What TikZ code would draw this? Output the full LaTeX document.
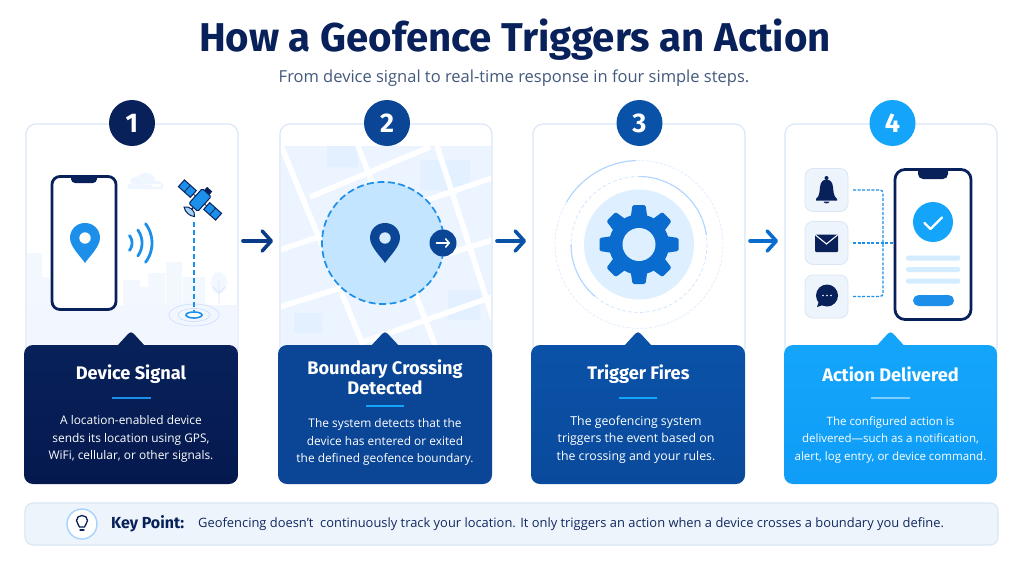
\documentclass[tikz,border=0pt]{standalone}
\usepackage{fontspec}
\setmainfont{Open Sans}
\newfontfamily\headfont{Fira Sans}
\usetikzlibrary{arrows.meta,calc,shapes.geometric}
\definecolor{navy}{HTML}{08215A}
\definecolor{navyend}{HTML}{05194E}
\definecolor{royal}{HTML}{0A4596}
\definecolor{cobalt}{HTML}{0A52A8}
\definecolor{cobaltend}{HTML}{0A4A9C}
\definecolor{sky}{HTML}{14A5FB}
\definecolor{skyend}{HTML}{0F9DF7}
\definecolor{midblue}{HTML}{0B6CCF}
\definecolor{pinblue}{HTML}{1C8FEB}
\definecolor{edgeblue}{HTML}{DAE6F6}
\definecolor{paleblue}{HTML}{EEF4FC}
\definecolor{slate}{HTML}{43597C}
\tikzset{
  cardbox/.style={draw=edgeblue,line width=1.1pt,rounded corners=10pt,fill=white,minimum width=212pt,minimum height=234pt,inner sep=0pt,outer sep=0pt},
  panelbox/.style={rounded corners=9pt,minimum width=#1,minimum height=139pt,inner sep=0pt,outer sep=0pt},
  badge/.style={circle,minimum size=46pt,inner sep=0pt,outer sep=0pt,text=white,font=\headfont\bfseries\fontsize{27}{27}\selectfont},
  flowarrow/.style={line width=3.6pt,line cap=round,-{Straight Barb[length=9pt,width=20pt,line width=3.6pt,round]},shorten >=7pt,shorten <=5pt},
  paneltitle/.style={text=white,align=center,font=\headfont\bfseries\fontsize{18.2}{19.5}\selectfont,inner sep=0pt},
  panelbody/.style={text=white,align=center,font=\fontsize{11.9}{17.5}\selectfont,inner sep=0pt},
  rulebar/.style={line width=2pt},
  iconbox/.style={draw=edgeblue,fill=paleblue,rounded corners=8pt,minimum size=43pt,inner sep=0pt,outer sep=0pt,line width=.8pt},
  feedline/.style={draw=pinblue,line width=1.3pt,dash pattern=on 3pt off 1.6pt},
  road/.style={white,line width=5.5pt},
  skyline/.style={fill=blue!60!cyan!6},
}
% Location pin: head centred on #1,#2, drawn at scale #3
\newcommand{\mappin}[5]{%
  \begin{scope}[shift={(#1,#2)},scale=#3]
    \fill[#4] (0,25) .. controls (-3,20) and (-15,9) .. (-15,0)
      .. controls (-15,-8.5) and (-8.5,-15) .. (0,-15)
      .. controls (8.5,-15) and (15,-8.5) .. (15,0)
      .. controls (15,9) and (3,20) .. (0,25) -- cycle;
    \fill[#5] (0,0) circle[radius=5.7];
  \end{scope}}
% Circular arc given by centre, radius and on-screen clockwise angles
\newcommand{\ringarc}[6]{%
  \draw[#6] plot[domain=#4:#5,samples=50] ({#1+#3*cos(\x)},{#2+#3*sin(\x)});}
\begin{document}
\begin{tikzpicture}[x=1pt,y=-1pt]
\useasboundingbox (0,0) rectangle (1024,562);
\fill[white] (0,0) rectangle (1024,562);

% Headline
\node[inner sep=0pt,text=navy,font=\headfont\bfseries\fontsize{40.2}{42}\selectfont] (headline) at (515,40) {How a Geofence Triggers an Action};
\node[inner sep=0pt,text=slate,font=\fontsize{16.5}{18}\selectfont] (subline) at (514,78) {From device signal to real-time response in four simple steps.};

% Cards, extending behind the coloured panels
\node[cardbox] (card1) at (132,241) {};
\node[cardbox] (card2) at (386,241) {};
\node[cardbox] (card3) at (639,241) {};
\node[cardbox] (card4) at (891,241) {};

% Step 1: skyline, ground, phone, signal and satellite
\begin{scope}
  \clip[rounded corners=10pt] (26.5,124.5) rectangle (237.5,357);
  \fill[skyline,opacity=.75] (27,253) rectangle (42,305) (42,277) rectangle (50,305)
     (123,280) rectangle (140,305) (138,287) rectangle (150,305) (148,273) rectangle (165,305)
     (166,262) rectangle (182,305) (183,277) rectangle (205,305);
  \fill[skyline,opacity=.8] (219,283) ellipse[x radius=8,y radius=11];
  \draw[blue!60!cyan!16,line width=.8pt] (219,280) -- (219,304) (219,293) -- (213,287) (219,293) -- (225,287);
  \fill[blue!60!cyan!5] (26,305) rectangle (238,357);
  \fill[blue!60!cyan!6] (136,181) ellipse[x radius=6,y radius=4] (146,179) ellipse[x radius=9,y radius=6] (156,184) ellipse[x radius=6,y radius=3] (128,184) rectangle (163,189);
\end{scope}
\node[draw=navy,fill=white,line width=2.8pt,rounded corners=8pt,minimum width=64pt,minimum height=133pt,inner sep=0pt] (phone1) at (84,243) {};
\fill[navy] (71,176) -- (97,176) -- (97,179) arc[start angle=0,end angle=90,radius=4] -- (75,183) arc[start angle=90,end angle=180,radius=4] -- cycle;
\mappin{85}{238}{1}{pinblue}{white}
\ringarc{120}{243}{12}{-38}{38}{pinblue,line width=2.8pt,line cap=round}
\ringarc{120}{243}{22}{-36}{36}{pinblue,line width=2.8pt,line cap=round}
\ringarc{120}{243}{32}{-37}{37}{pinblue,line width=2.8pt,line cap=round}
\begin{scope}[shift={(200,200)},rotate=-42]
  \draw[navy,line width=1pt,fill=pinblue] (-25,-4.5) rectangle (-9,4.5);
  \draw[navy,line width=1pt,fill=pinblue] (9,-4.5) rectangle (25,4.5);
  \draw[navy,line width=.8pt] (-17,-4.5) -- (-17,4.5) (17,-4.5) -- (17,4.5) (-9,0) -- (-6,0) (6,0) -- (9,0);
  \draw[navy,line width=1pt,fill=pinblue,rounded corners=1.5pt] (-6,-10) rectangle (6,10);
  \fill[navy] (-3.5,-14.5) rectangle (3.5,-10);
  \draw[navy,line width=1pt,fill=pinblue!40] (-7,16) .. controls (-3,19) and (3,19) .. (7,16) .. controls (4,11) and (-4,11) .. (-7,16) -- cycle;
  \draw[navy,line width=1pt] (0,10) -- (0,13);
\end{scope}
\coordinate (beamtop) at (194,222);
\draw[blue!60!cyan!20,line width=.7pt] (194,315) ellipse[x radius=16,y radius=6.5] (194,315) ellipse[x radius=25,y radius=11];
\node[draw=pinblue,line width=1.6pt,fill=white,ellipse,minimum width=16pt,minimum height=6pt,inner sep=0pt] (spot) at (194,315) {};
\draw[pinblue,line width=1.4pt,dash pattern=on 5pt off 3pt] (beamtop) -- (spot.north);

% Step 2: street map with a dashed fence around the pin
\begin{scope}
  \clip (281,146.5) rectangle (491,345);
  \fill[blue!55!cyan!8] (280,146) rectangle (492,346);
  \fill[blue!55!cyan!11] (327,146) rectangle (358,167) (294,313) rectangle (322,333) (420,160) rectangle (470,190) (448,290) rectangle (480,320);
  \foreach \a/\b/\c/\d in {280/143/363/345,358/146/437/350,437/146/494/322,310/197/430/147,280/250/492/178,280/307/492/240,360/343/492/297}
    \draw[road] (\a,\b) -- (\c,\d);
\end{scope}
\node[circle,draw=pinblue,fill=blue!45!cyan!23,line width=1.7pt,dash pattern=on 7pt off 3.5pt,minimum size=122pt,inner sep=0pt,outer sep=0pt] (fence) at (383,243) {};
\mappin{385}{238}{1}{royal}{blue!45!cyan!16}
\node[circle,fill=royal,minimum size=27pt,inner sep=0pt,outer sep=0pt] (exitmark) at (443,243) {};
\draw[white,line width=1.6pt,line cap=round,-{Straight Barb[length=3.5pt,width=8pt,line width=1.6pt,round]}] (436.5,243) -- (450,243);

% Step 3: gear inside broken rings
\ringarc{639}{244.5}{84}{100}{460}{blue!55!cyan!13,line width=.7pt,dash pattern=on 3pt off 1.5pt}
\ringarc{639}{244.5}{84}{-150}{-92}{blue!55!cyan!30,line width=1.1pt}
\ringarc{639}{244.5}{68}{0}{360}{blue!55!cyan!20,line width=.7pt,dash pattern=on 3.5pt off 2.5pt}
\ringarc{639}{244.5}{68}{-90}{-8}{blue!55!cyan!30,line width=1.1pt}
\ringarc{639}{244.5}{68}{130}{180}{blue!55!cyan!30,line width=1.1pt}
\node[circle,fill=blue!45!cyan!13,minimum size=110pt,inner sep=0pt,outer sep=0pt] (geardisc) at (639,244.5) {};
\begin{scope}[shift={(geardisc.center)}]
  \fill[midblue] (0,0) circle[radius=30];
  \foreach \t in {0,45,...,315}
    \fill[midblue,rotate=\t,rounded corners=1.5pt] (-8.5,-26) -- (-6.5,-39.5) -- (6.5,-39.5) -- (8.5,-26) -- cycle;
  \fill[blue!45!cyan!13] (0,0) circle[radius=16.5];
\end{scope}

% Step 4: alert channels feeding the phone
\node[iconbox] (bellbox) at (826.5,190) {};
\node[iconbox] (mailbox) at (826.5,243) {};
\node[iconbox] (chatbox) at (826.5,296.5) {};
\node[draw=navy,fill=white,line width=2.8pt,rounded corners=10pt,minimum width=76pt,minimum height=150pt,inner sep=0pt,outer sep=1.4pt] (phone4) at (933,244.5) {};
\fill[navy] (918,170) -- (948,170) -- (948,174) arc[start angle=0,end angle=90,radius=5] -- (923,179) arc[start angle=90,end angle=180,radius=5] -- cycle;
\coordinate (feedjoin) at (883,243);
\draw[feedline,rounded corners=3pt] ($(bellbox.east)+(5,0)$) -| (feedjoin);
\draw[feedline,rounded corners=3pt] ($(chatbox.east)+(5,0)$) -| (feedjoin);
\path[feedline] ($(mailbox.east)+(5,0)$) -- (feedjoin) -- (phone4.west |- feedjoin);
% Bell
\fill[navy] (826.5,178) circle[radius=2];
\fill[navy] (816,199) .. controls (820,196) and (819.5,190) .. (820,187) .. controls (820.5,182) and (823,179.5) .. (826.5,179.5)
  .. controls (830,179.5) and (832.5,182) .. (833,187) .. controls (833.5,190) and (833,196) .. (837,199) -- (837,200.5) -- (816,200.5) -- cycle;
\fill[navy] (823.5,201.5) .. controls (824,204) and (829,204) .. (829.5,201.5) -- cycle;
% Envelope
\fill[navy,rounded corners=1pt] (815,234.5) rectangle (838,252);
\draw[white,line width=1.1pt] (815.5,235) -- (826.5,244) -- (837.5,235);
% Speech bubble
\fill[navy] (827,295.5) circle[radius=11];
\fill[navy] (819,301) -- (817,307) -- (826,304) -- cycle;
\foreach \d in {-4,0,4} \fill[white] (827+\d,295.5) circle[radius=.9];
% Phone screen
\node[circle,fill=sky,minimum size=40pt,inner sep=0pt] (okmark) at (933,222) {};
\draw[white,line width=2.4pt,line cap=round,line join=round] (924.5,223) -- (930.5,229) -- (942,217.5);
\foreach \yy in {258,269.5,281}
  \fill[blue!45!cyan!17,rounded corners=1.5pt] (906,\yy-2.5) rectangle (960,\yy+2.5);
\fill[pinblue,rounded corners=5.5pt] (913,295) rectangle (954,306);

% Panels with their upward pointers
\foreach \nm/\cx/\w/\colA/\colB in {panel1/131/214pt/navy/navyend,panel2/385/214pt/royal/royal,panel3/638/214pt/cobalt/cobaltend,panel4/890.5/213pt/sky/skyend}{
  \fill[\colA] (\cx-14,346) -- (\cx-2.5,333.5) .. controls (\cx-1,332) and (\cx+1,332) .. (\cx+2.5,333.5) -- (\cx+14,346) -- cycle;
  \node[panelbox=\w,top color=\colA,bottom color=\colB] (\nm) at (\cx,414.5) {};
}

% Numbered badges
\node[badge,fill=navy] (badge1) at (132,123) {1};
\node[badge,fill=royal] (badge2) at (387,123) {2};
\node[badge,fill=cobalt] (badge3) at (639.5,123) {3};
\node[badge,fill=sky] (badge4) at (892.5,123) {4};

% Flow arrows between the cards
\draw[flowarrow,royal!75!navy] (card1.east) -- (card2.west);
\draw[flowarrow,cobalt] (card2.east) -- (card3.west);
\draw[flowarrow,midblue] (card3.east) -- (card4.west);

% Panel texts
\node[paneltitle] (t1) at (131,374) {Device Signal};
\draw[rulebar,pinblue] (112,397.5) -- (151,397.5);
\node[panelbody] (b1) at (131,439) {A location-enabled device\\sends its location using GPS,\\WiFi, cellular, or other signals.};
\node[paneltitle] (t2) at (385,377.5) {Boundary Crossing\\Detected};
\draw[rulebar,sky] (366,406) -- (404,406);
\node[panelbody] (b2) at (385,442) {The system detects that the\\device has entered or exited\\the defined geofence boundary.};
\node[paneltitle] (t3) at (638.5,374) {Trigger Fires};
\draw[rulebar,sky] (619,397.5) -- (657,397.5);
\node[panelbody,font=\fontsize{12.3}{17.5}\selectfont] (b3) at (636,439.5) {The geofencing system\\triggers the event based on\\the crossing and your rules.};
\node[paneltitle] (t4) at (890.5,374) {Action Delivered};
\draw[rulebar,sky!55!white] (871,397.5) -- (910,397.5);
\node[panelbody,font=\fontsize{11.5}{17.5}\selectfont] (b4) at (890.5,439.5) {The configured action is\\delivered—such as a notification,\\alert, log entry, or device command.};

% Key point strip
\node[draw=edgeblue,fill=paleblue,line width=1.1pt,rounded corners=8pt,minimum width=973pt,minimum height=42pt,inner sep=0pt] (strip) at (511.5,524) {};
\node[circle,draw=blue!50!cyan!35,fill=white,line width=1.4pt,minimum size=30pt,inner sep=0pt] (bulbring) at (82,524) {};
\draw[navy,line width=1.3pt,line join=round] (79.5,527) .. controls (79,524) and (76.5,523.5) .. (76.5,520.5) .. controls (76.5,517.5) and (79,515.5) .. (82,515.5) .. controls (85,515.5) and (87.5,517.5) .. (87.5,520.5) .. controls (87.5,523.5) and (85,524) .. (84.5,527) -- cycle;
\draw[navy,line width=1.3pt,line cap=round] (80,530) -- (84,530);
\node[anchor=west,inner sep=0pt,text=navy,font=\headfont\bfseries\fontsize{16}{16}\selectfont] (keylabel) at (111,524) {Key Point:};
\node[anchor=west,inner sep=0pt,text=navy!85!slate,font=\fontsize{12.9}{15}\selectfont] (keytext) at (198,524.5) {Geofencing doesn't\ \ continuously track your location. It only triggers an action when a device crosses a boundary you define.};
\end{tikzpicture}
\end{document}
